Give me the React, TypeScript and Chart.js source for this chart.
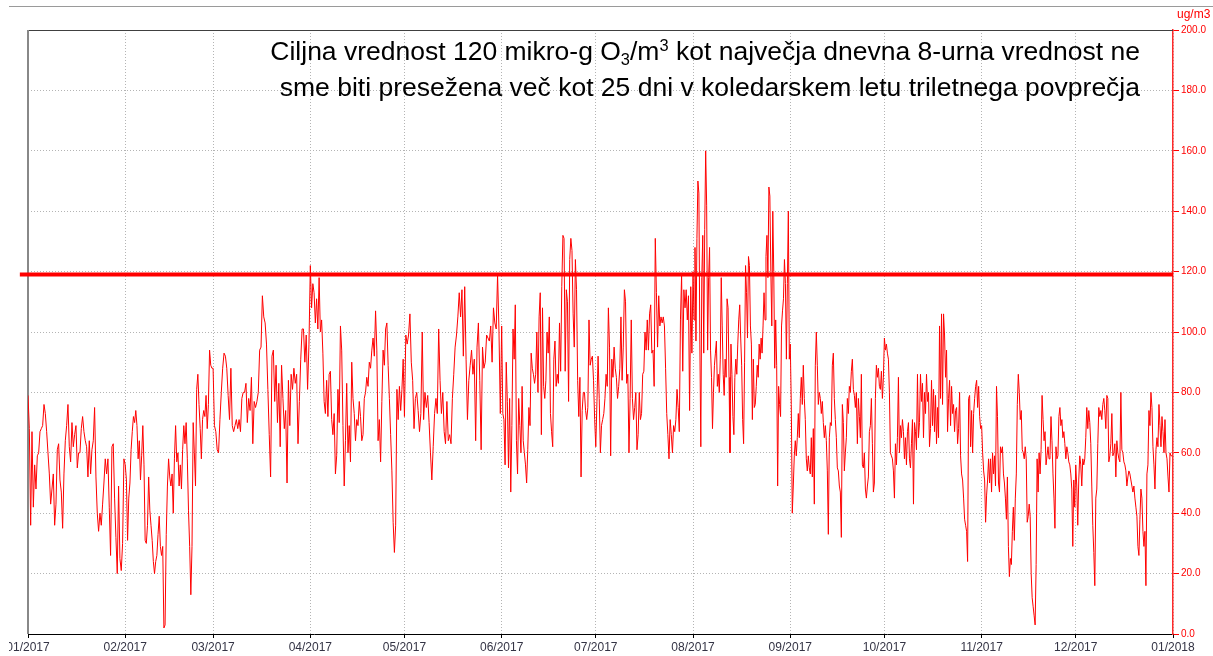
import React, { useEffect, useRef } from "react";
import { Chart, registerables } from "chart.js";

Chart.register(...registerables);

const monthDays = [31, 28, 31, 30, 31, 30, 31, 31, 30, 31, 30, 31];
const monthTicks = [0, 31, 59, 90, 120, 151, 181, 212, 243, 273, 304, 334, 365];
const monthLabels = [
  "01/2017", "02/2017", "03/2017", "04/2017", "05/2017", "06/2017", "07/2017",
  "08/2017", "09/2017", "10/2017", "11/2017", "12/2017", "01/2018",
];
const limitValue = 119;
const unitLabel = "ug/m3";

const jan = [79, 68, 36, 67, 42, 56, 48, 59, 60, 67, 68, 69, 76, 73, 67, 60, 53, 43, 48, 53, 36, 43, 61, 63, 51, 47, 35, 53, 64, 69, 76, 62, 57, 70, 62, 66, 69, 55, 60, 60, 68, 72, 67, 64, 62, 52, 64, 53, 61, 64, 75, 52, 40, 34, 40, 36, 43, 50, 58, 53, 58, 42, 26, 62, 63, 45, 32, 20, 49, 25, 21, 30, 58];
const feb = [56, 51, 31, 45, 50, 61, 67, 72, 70, 74, 69, 58, 64, 51, 59, 69, 56, 31, 30, 36, 52, 41, 36, 31, 24, 20, 24, 26, 33, 39, 29, 26, 29, 2, 3, 33, 49, 58, 52, 49, 53, 40, 58, 69, 57, 60, 49, 56, 48, 61, 69, 63, 70, 58, 41, 29, 13, 29, 70, 60, 49, 81, 86, 76, 68, 58, 71, 74, 72, 79, 68, 76, 94, 89, 88];
const mar = [88, 69, 67, 61, 60, 71, 80, 88, 93, 92, 88, 79, 71, 88, 69, 67, 69, 71, 68, 71, 67, 78, 80, 80, 83, 70, 78, 74, 85, 63, 77, 75, 77, 80, 94, 95, 112, 105, 103, 96, 81, 66, 52, 92, 94, 77, 89, 70, 83, 62, 89, 78, 68, 74, 50, 84, 69, 86, 81, 88, 83, 86, 63, 77, 91, 101, 101, 90, 99, 81, 96];
const apr = [122, 108, 116, 113, 103, 111, 101, 118, 100, 104, 93, 77, 73, 84, 72, 86, 87, 71, 66, 73, 53, 59, 81, 70, 102, 94, 69, 49, 64, 83, 60, 69, 57, 90, 78, 73, 64, 71, 69, 77, 72, 64, 66, 78, 80, 85, 82, 90, 88, 94, 98, 92, 107, 94, 64, 71, 57, 77, 94, 89, 101, 103, 89, 78, 66, 54, 37, 27, 36, 81, 71, 82, 74, 81, 91];
const may = [72, 99, 96, 99, 106, 90, 84, 68, 78, 80, 74, 67, 73, 100, 71, 80, 75, 79, 70, 60, 51, 62, 73, 78, 73, 101, 84, 73, 80, 67, 63, 77, 64, 66, 63, 78, 86, 95, 99, 105, 113, 105, 114, 92, 115, 91, 71, 84, 89, 94, 86, 91, 64, 95, 103, 84, 61, 95, 88, 90, 99, 98, 97, 102, 90, 108, 103, 101, 119, 101, 73];
const jun = [102, 73, 71, 56, 90, 77, 55, 78, 47, 69, 101, 91, 109, 64, 53, 78, 69, 60, 82, 64, 60, 56, 50, 61, 75, 69, 93, 88, 86, 83, 86, 100, 80, 105, 113, 66, 108, 82, 78, 84, 100, 93, 105, 73, 67, 62, 91, 97, 82, 86, 83, 103, 87, 115, 132, 131, 87, 114, 110, 77, 124, 131, 127, 106, 95, 124, 114, 84, 72, 85, 52, 74, 80, 80, 74, 71, 75, 104, 89, 91, 92, 84, 71];
const jul = [62, 77, 92, 78, 60, 69, 71, 73, 78, 86, 82, 108, 95, 59, 91, 85, 95, 88, 85, 78, 82, 88, 105, 84, 95, 114, 110, 83, 86, 60, 78, 104, 78, 71, 75, 80, 61, 66, 80, 71, 73, 86, 87, 100, 94, 104, 94, 106, 109, 93, 94, 82, 131, 113, 95, 112, 102, 105, 103, 105, 102, 88, 73, 66, 58, 71, 66, 60, 69, 67, 71, 81, 75, 67, 104, 119, 87, 114, 108, 114, 104, 112, 74, 115, 93];
const aug = [120, 104, 128, 97, 131, 150, 146, 96, 62, 118, 132, 93, 134, 160, 142, 94, 118, 128, 94, 85, 68, 80, 89, 93, 97, 82, 86, 80, 91, 118, 102, 86, 79, 91, 85, 111, 108, 85, 60, 96, 86, 72, 66, 85, 91, 86, 96, 104, 109, 98, 89, 71, 63, 90, 122, 113, 98, 125, 122, 102, 96, 71, 91, 75, 76, 82, 89, 85, 96, 91, 98, 93, 102, 113, 104, 125, 132, 118, 148, 145, 120, 102, 140, 120, 88, 104, 89, 49, 82, 76, 72, 102, 107, 111, 124, 116, 91, 116, 140, 91];
const sep = [96, 76, 40, 49, 59, 64, 59, 65, 73, 65, 78, 85, 76, 89, 78, 71, 58, 54, 59, 55, 53, 65, 52, 68, 43, 89, 100, 89, 76, 80, 78, 73, 77, 70, 65, 69, 64, 54, 33, 65, 70, 69, 89, 93, 78, 71, 65, 55, 54, 49, 47, 32, 76, 70, 54, 60, 65, 78, 73, 82, 80, 87, 91, 81, 79, 75, 80, 63, 78, 72, 65, 86, 56, 55, 60, 48, 45, 49, 52, 67, 69, 78, 63, 47, 50, 78, 89, 85, 88, 82, 81, 87, 78, 85];
const oct = [98, 94, 96, 93, 91, 80, 60, 59, 58, 54, 45, 63, 56, 65, 85, 60, 69, 65, 71, 67, 58, 65, 56, 67, 70, 58, 55, 63, 71, 43, 70, 67, 61, 86, 65, 70, 86, 77, 83, 65, 80, 73, 86, 77, 80, 62, 68, 84, 69, 81, 67, 79, 63, 75, 65, 102, 78, 106, 76, 106, 99, 85, 94, 67, 78, 84, 69, 82, 73, 76, 67, 74, 75, 63, 68, 80, 59, 53, 51, 45, 38, 36, 34, 24, 78, 79, 62, 74, 60, 73, 78, 82, 84, 75, 82, 72, 68];
const nov = [69, 60, 54, 51, 37, 46, 51, 58, 50, 58, 47, 60, 53, 59, 49, 82, 72, 50, 47, 62, 60, 62, 53, 50, 45, 38, 52, 29, 19, 25, 23, 34, 42, 31, 45, 53, 76, 86, 80, 71, 74, 61, 60, 58, 62, 58, 37, 39, 43, 39, 20, 12, 9, 6, 3, 23, 58, 47, 60, 53, 61, 79, 71, 64, 67, 56, 59, 62, 58, 59, 72, 64, 53, 45, 35, 62, 58, 59, 72, 75, 69, 71, 65, 67, 63, 58, 62, 60, 57, 56, 53, 48, 29, 51, 42];
const dec = [56, 49, 36, 51, 59, 56, 49, 58, 56, 58, 65, 75, 68, 74, 70, 63, 49, 36, 27, 16, 45, 48, 63, 75, 72, 74, 71, 76, 78, 74, 68, 79, 78, 57, 59, 63, 73, 59, 60, 63, 52, 64, 60, 58, 57, 80, 61, 60, 57, 56, 54, 49, 52, 54, 53, 51, 49, 47, 49, 45, 42, 39, 29, 26, 38, 48, 45, 34, 29, 34, 16, 53, 56, 74, 69, 80, 75, 62, 56, 48, 61, 65, 62, 76, 69, 62, 72, 67, 60, 71, 60, 58, 52, 47, 60, 59, 59];

const months = [jan, feb, mar, apr, may, jun, jul, aug, sep, oct, nov, dec];

function buildSeries() {
  const pts: { x: number; y: number }[] = [];
  let start = 0;
  months.forEach((arr, m) => {
    const d = monthDays[m];
    arr.forEach((v, i) => pts.push({ x: start + (i * d) / arr.length, y: v }));
    start += d;
  });
  return pts;
}

const framePlugin = {
  id: "frame",
  beforeDatasetsDraw(chart: any) {
    const { ctx, chartArea: a } = chart;
    ctx.save();
    ctx.fillStyle = "#404040";
    ctx.fillRect(a.left, Math.round(a.top), a.right - a.left, 1);
    ctx.fillStyle = "#888888";
    ctx.fillRect(Math.round(a.left) - 1, a.top, 2, a.bottom - a.top);
    ctx.restore();
  },
  afterDraw(chart: any) {
    chart.ctx.clearRect(0, 0, 9, chart.height);
  },
};

export default function App() {
  const ref = useRef<HTMLCanvasElement | null>(null);

  useEffect(() => {
    if (!ref.current) return;
    const series = buildSeries();
    const chart = new Chart(ref.current, {
      type: "line",
      data: {
        datasets: [
          {
            data: [
              { x: -2.6, y: limitValue },
              { x: 365, y: limitValue },
            ],
            borderColor: "#ff0000",
            borderWidth: 4,
            pointRadius: 0,
            clip: false as any,
            order: 0,
          },
          {
            data: series,
            borderColor: "#ff0000",
            borderWidth: 1,
            pointRadius: 0,
            tension: 0,
            fill: false,
            order: 1,
          },
        ],
      },
      options: {
        animation: false,
        responsive: false,
        events: [],
        plugins: { legend: { display: false }, tooltip: { enabled: false } },
        layout: { padding: { left: 28, top: 30, right: 0, bottom: 0 } },
        scales: {
          x: {
            type: "linear",
            min: 0,
            max: 365,
            position: "bottom",
            afterBuildTicks: (s: any) => {
              s.ticks = monthTicks.map((v) => ({ value: v }));
            },
            afterFit: (s: any) => {
              s.height = 22;
            },
            ticks: {
              autoSkip: false,
              maxRotation: 0,
              minRotation: 0,
              padding: 2,
              color: "#333344",
              font: { family: "Liberation Sans", size: 12 },
              callback: (_v: any, i: number) => monthLabels[i],
            },
            grid: {
              color: "#b4b4b4",
              lineWidth: 1,
              tickLength: 4,
              tickColor: "#000000",
              tickWidth: 1,
            },
            border: { display: true, color: "#000000", width: 1, dash: [1, 2] },
          },
          y: {
            position: "right",
            min: 0,
            max: 200,
            afterFit: (s: any) => {
              s.width = 40;
            },
            ticks: {
              stepSize: 20,
              padding: 2,
              color: "#ff0000",
              font: { family: "Liberation Sans", size: 10 },
              callback: (v: any) => Number(v).toFixed(1),
            },
            grid: {
              color: "#b4b4b4",
              lineWidth: 1,
              tickLength: 6,
              tickColor: "#ff0000",
              tickWidth: 1,
            },
            border: { display: true, color: "#ff2a2a", width: 1.5, dash: [1, 2] },
          },
        },
      },
      plugins: [framePlugin],
    });
    return () => chart.destroy();
  }, []);

  const sub = { fontSize: "0.62em", position: "relative" as const, top: "0.28em" };
  const sup = { fontSize: "0.62em", position: "relative" as const, top: "-0.55em" };

  return (
    <div
      style={{
        position: "absolute",
        left: 0,
        top: 0,
        width: 1213,
        height: 656,
        overflow: "hidden",
        background: "#ffffff",
      }}
    >
      <canvas
        ref={ref}
        width={1213}
        height={656}
        style={{ position: "absolute", left: 0, top: 0, width: 1213, height: 656, display: "block" }}
      />
      <div
        style={{
          position: "absolute",
          left: 9,
          top: 6,
          width: 1204,
          height: 1,
          background: "#9a9a9a",
        }}
      />
      <div
        style={{
          position: "absolute",
          left: 1177,
          top: 8,
          fontFamily: '"Liberation Sans", Arial, sans-serif',
          fontSize: 12,
          lineHeight: "12px",
          color: "#ff0000",
          whiteSpace: "nowrap",
        }}
      >
        {unitLabel}
      </div>
      <div
        style={{
          position: "absolute",
          right: 1213 - 1140,
          top: 35,
          textAlign: "right",
          fontFamily: '"Liberation Sans", Arial, sans-serif',
          fontSize: 26.5,
          lineHeight: "33px",
          color: "#000000",
          whiteSpace: "nowrap",
        }}
      >
        Ciljna vrednost 120 mikro-g O<span style={sub}>3</span>/m<span style={sup}>3</span> kot največja dnevna 8-urna vrednost ne
        <br />
        sme biti presežena več kot 25 dni v koledarskem letu triletnega povprečja
      </div>
    </div>
  );
}
